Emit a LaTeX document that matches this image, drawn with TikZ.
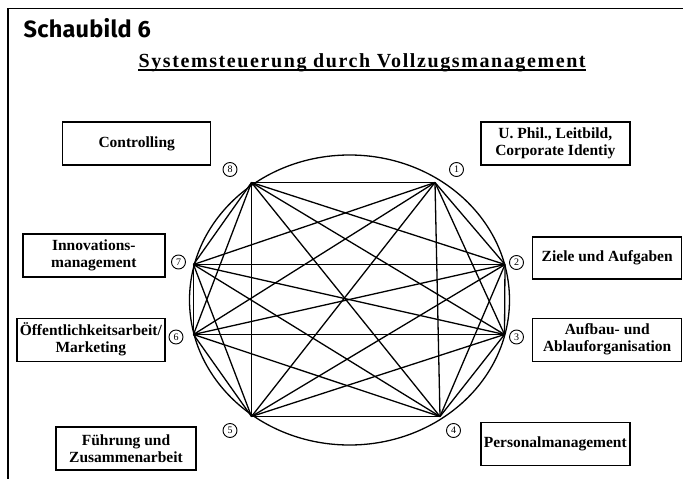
\documentclass[tikz,border=0pt]{standalone}
\usepackage{fontspec}
\setmainfont{Liberation Serif}
\newfontfamily\headfont[LetterSpace=1]{Fira Sans}
\newfontfamily\subfont[LetterSpace=8]{Liberation Serif}
\tikzset{
  area/.style={draw, line width=1.4pt, align=center, inner sep=0pt,
    font=\fontsize{15.5}{17}\selectfont\bfseries},
  nr/.style={draw, circle, line width=0.9pt, inner sep=0pt, minimum size=14pt,
    font=\fontsize{10}{10}\selectfont}
}
\begin{document}
\begin{tikzpicture}[x=1pt,y=-1pt,line width=1.3pt]
\useasboundingbox (0,0) rectangle (683,479);
% frame
\coordinate (fa) at (683,8.5);
\coordinate (fb) at (8,8.5);
\coordinate (fc) at (8,479);
\draw[line width=1.5pt] (fa) -- (fb) -- (fc);
% headings
\node[anchor=base west, inner sep=0pt, font=\headfont\bfseries\fontsize{23.5}{23.5}\selectfont] (head) at (23,37) {Schaubild 6};
\node[anchor=base west, inner sep=0pt, font=\subfont\bfseries\fontsize{20}{20}\selectfont] (sub) at (138,67) {Systemsteuerung durch Vollzugsmanagement};
\draw[line width=1.8pt] ([yshift=-3pt]sub.base west) -- ([yshift=-3pt]sub.base east);
% octagon points
\coordinate (p1) at (435,182.5);
\coordinate (p2) at (505,264.5);
\coordinate (p3) at (504.5,334.5);
\coordinate (p4) at (440,416.5);
\coordinate (p5) at (251.5,416.5);
\coordinate (p6) at (193.5,334.5);
\coordinate (p7) at (193.5,264.5);
\coordinate (p8) at (251.5,182.5);
\coordinate (mid) at (349.5,300);
\draw (mid) ellipse[x radius=160, y radius=145];
\foreach \i in {1,...,7}{
  \pgfmathtruncatemacro\k{\i+1}
  \foreach \j in {\k,...,8}
    \draw (p\i) -- (p\j);
}
% numbers
\node[nr] (n1) at (456.5,169.5) {1};
\node[nr] (n2) at (516.5,262.5) {2};
\node[nr] (n3) at (516.5,337) {3};
\node[nr] (n4) at (453.5,430.5) {4};
\node[nr] (n5) at (230,430.5) {5};
\node[nr] (n6) at (176,337) {6};
\node[nr] (n7) at (178.5,262) {7};
\node[nr] (n8) at (230,169.5) {8};
% boxes
\node[area, minimum width=148pt, minimum height=43pt] (contr) at (136.7,143.5) {Controlling};
\node[area, minimum width=142pt, minimum height=43pt] (innov) at (93.8,255.3) {Innovations-\\management};
\node[area, minimum width=148pt, minimum height=43pt] (oeff) at (90.8,339.7) {Öffentlichkeitsarbeit/\\Marketing};
\node[area, minimum width=140pt, minimum height=43pt] (fuehr) at (126,448.3) {Führung und\\Zusammenarbeit};
\node[area, minimum width=149pt, minimum height=43pt] (phil) at (555.3,143.5) {U. Phil., Leitbild,\\Corporate Identiy};
\node[area, minimum width=149pt, minimum height=42pt] (ziele) at (607.2,257.8) {Ziele und Aufgaben};
\node[area, minimum width=149pt, minimum height=43pt] (aufbau) at (607.2,339.7) {Aufbau- und\\Ablauforganisation};
\node[area, minimum width=149pt, minimum height=43pt] (personal) at (555.3,443.7) {Personalmanagement};
\end{tikzpicture}
\end{document}
